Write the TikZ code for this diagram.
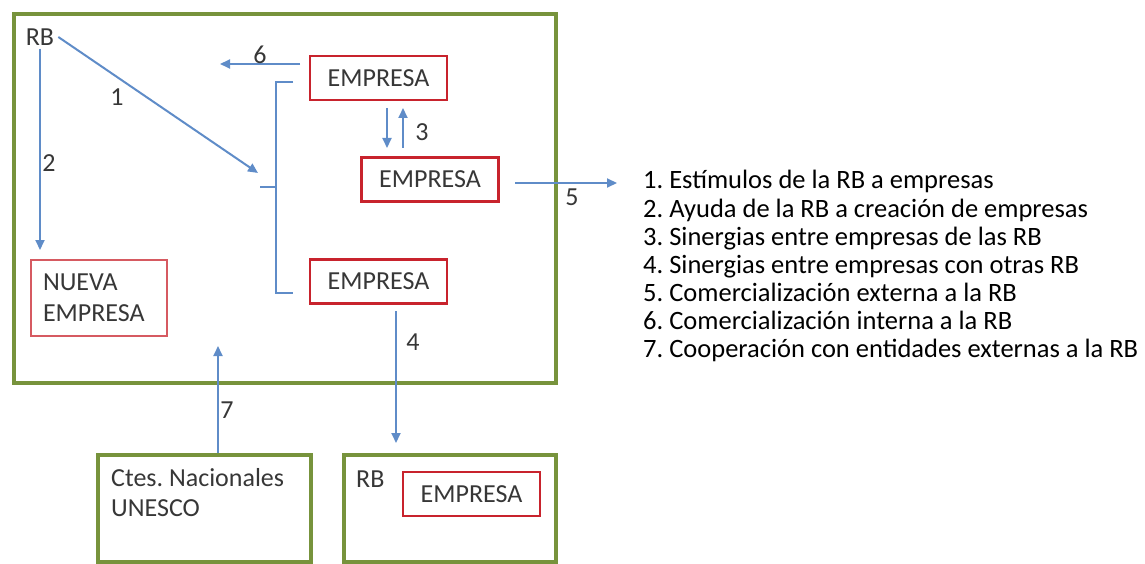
\documentclass[tikz,border=0pt]{standalone}
\usepackage{fontspec}
\setmainfont{Carlito}
\usetikzlibrary{arrows.meta}
\definecolor{boxgreen}{RGB}{119,147,60}
\definecolor{boxred}{RGB}{200,35,45}
\definecolor{arrowblue}{RGB}{95,140,200}
\definecolor{txtgray}{RGB}{55,55,55}
\frenchspacing
\begin{document}
\frenchspacing
\begin{tikzpicture}[x=1pt,y=-1pt, font=\fontsize{26}{28}\selectfont,
  greenbox/.style={draw=boxgreen, line width=3.5pt, inner sep=0pt},
  redbox/.style={draw=boxred, line width=2.5pt, minimum width=137pt, minimum height=44pt, inner sep=0pt, text=txtgray},
  flow/.style={draw=arrowblue, line width=2pt, -{Triangle[length=10pt,width=9pt]}},
  bracketline/.style={draw=arrowblue, line width=1.8pt},
  num/.style={text=txtgray, inner sep=0pt},
  legend/.style={anchor=base west, inner sep=0pt, text=black, font=\fontsize{26.5}{28}\selectfont}]
\useasboundingbox (0,0) rectangle (1145,564);

% main RB box
\node[greenbox, minimum width=542pt, minimum height=369pt] (rbbox) at (285,198.5) {};
\node[num] (rb) at (40,37) {RB};
\node[redbox] (e1) at (378.5,78) {EMPRESA};
\node[redbox] (e2) at (430,179.5) {EMPRESA};
\node[redbox] (e3) at (378.5,281.5) {EMPRESA};
\node[draw=boxred!75, line width=1.2pt, minimum width=136pt, minimum height=76pt,
      text width=112pt, align=left, inner xsep=12pt, inner ysep=0pt, text=txtgray,
      font=\fontsize{26}{31}\selectfont] (nueva) at (99,298) {NUEVA\\EMPRESA};

% bottom boxes
\node[greenbox, minimum width=213pt, minimum height=107pt] (ctes) at (204.5,508.5) {};
\node[num, anchor=north west, align=left, font=\fontsize{26}{30}\selectfont] (ctestxt) at (111,468) {Ctes.\ Nacionales\\UNESCO};
\node[greenbox, minimum width=212pt, minimum height=107pt] (rbtwo) at (450,508.5) {};
\node[num, anchor=west] (rbtwolbl) at (356,479) {RB};
\node[redbox, line width=2pt] (e4) at (471.5,494) {EMPRESA};

% coordinates for free ends
\coordinate (a2e) at (40,250);
\coordinate (a1e) at (258,173);
\coordinate (bt) at (293,82);
\coordinate (bb) at (293,293);
\coordinate (bm) at (260,187);
\coordinate (a6s) at (300,64);
\coordinate (a6e) at (220,64);
\coordinate (a3ds) at (387,108);
\coordinate (a3de) at (387,148);
\coordinate (a3us) at (403,148);
\coordinate (a3ue) at (403,108);
\coordinate (a5s) at (515,183);
\coordinate (a5e) at (617,183);
\coordinate (a4s) at (396,311);
\coordinate (a4e) at (396,443);
\coordinate (a7e) at (218,346);

% connectors
\draw[flow] ([yshift=-3pt]rb.south) -- (a2e);
\draw[flow] ([xshift=4pt]rb.east) -- (a1e);
\draw[bracketline] (bt) -- ++(-17,0) |- (bb);
\draw[bracketline] (bm) -- ++(16,0);
\draw[flow] (a6s) -- (a6e);
\draw[flow] (a3ds) -- (a3de);
\draw[flow] (a3us) -- (a3ue);
\draw[flow] (a5s) -- (a5e);
\draw[flow] (a4s) -- (a4e);
\draw[flow] ([xshift=13.5pt]ctes.north) -- (a7e);

% number labels
\node[num] (n1) at (117,97) {1};
\node[num] (n2) at (49,163) {2};
\node[num] (n3) at (422,132) {3};
\node[num] (n4) at (413,342) {4};
\node[num] (n5) at (572,197) {5};
\node[num] (n6) at (260,55) {6};
\node[num] (n7) at (227,410) {7};

% legend
\node[legend] (l1) at (643,189) {1. Estímulos de la RB a empresas};
\node[legend] (l2) at (643,217) {2. Ayuda de la RB a creación de empresas};
\node[legend] (l3) at (643,245) {3. Sinergias entre empresas de las RB};
\node[legend] (l4) at (643,273) {4. Sinergias entre empresas con otras RB};
\node[legend] (l5) at (643,301) {5. Comercialización externa a la RB};
\node[legend] (l6) at (643,329) {6. Comercialización interna a la RB};
\node[legend] (l7) at (643,357) {7. Cooperación con entidades externas a la RB};
\end{tikzpicture}
\end{document}
